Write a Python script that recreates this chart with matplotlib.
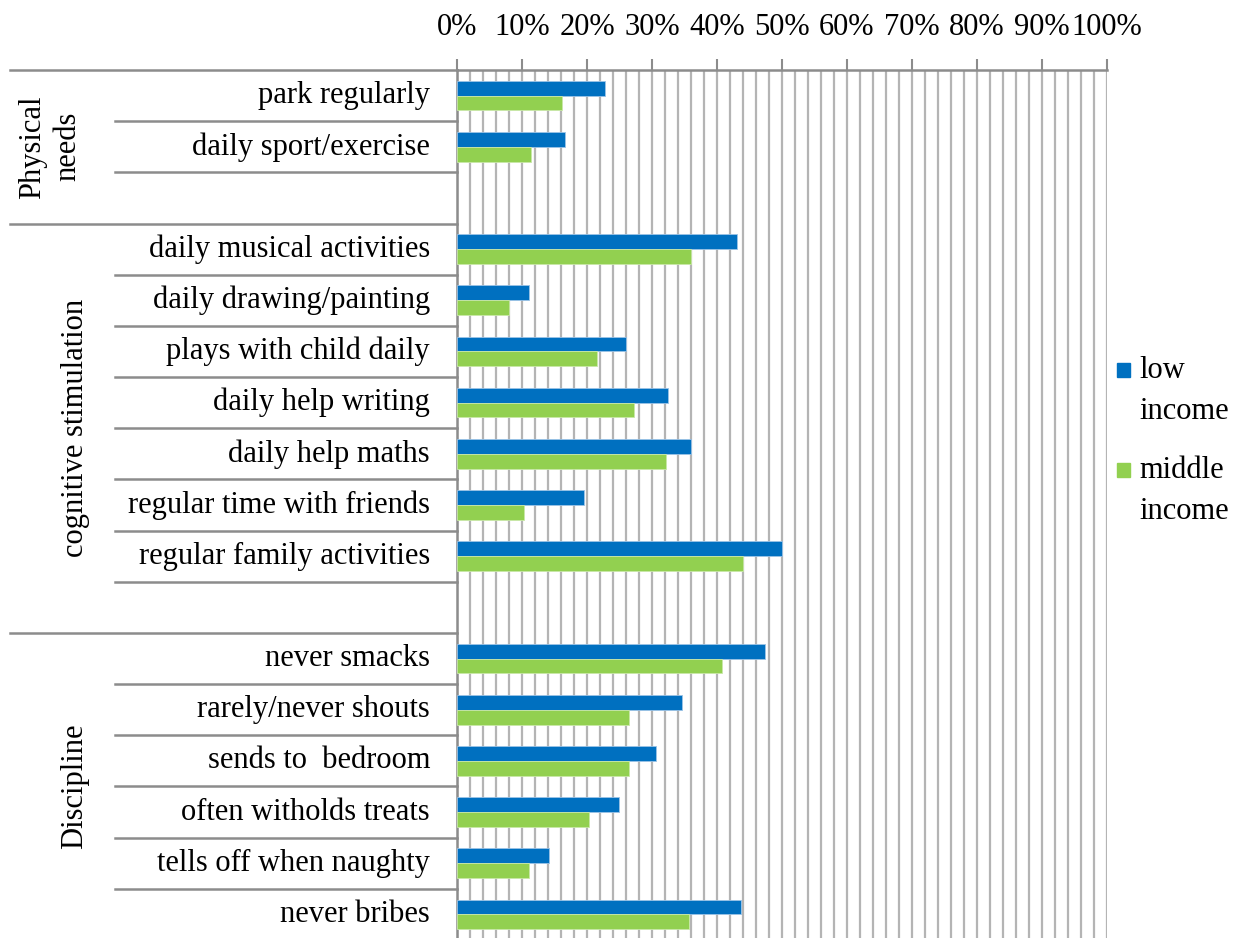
import numpy as np
import matplotlib
matplotlib.use("Agg")
import matplotlib.pyplot as plt
import matplotlib.transforms as mtransforms
from matplotlib.patches import Rectangle

# data (top to bottom, '' = empty spacer row)
categories = ["park regularly", "daily sport/exercise", "",
              "daily musical activities", "daily drawing/painting", "plays with child daily",
              "daily help writing", "daily help maths", "regular time with friends",
              "regular family activities", "",
              "never smacks", "rarely/never shouts", "sends to  bedroom",
              "often witholds treats", "tells off when naughty", "never bribes"]
low_income = [22.8, 16.6, np.nan,
              43.1, 11.1, 26.0, 32.5, 36.0, 19.5, 50.0, np.nan,
              47.4, 34.6, 30.6, 24.9, 14.2, 43.7]
middle_income = [16.2, 11.4, np.nan,
                 36.0, 8.0, 21.5, 27.2, 32.2, 10.3, 44.0, np.nan,
                 40.8, 26.5, 26.5, 20.3, 11.1, 35.7]
groups = ["Physical\nneeds", "cognitive stimulation", "Discipline"]
group_rows = [(0, 2), (3, 10), (11, 16)]
series_names = ["low\nincome", "middle\nincome"]
xtick_labels = ["%d%%" % v for v in range(0, 101, 10)]

BLUE = "#0070C0"
GREEN = "#92D050"
LINE = "#8c8c8c"
GRID = "#b4b4b4"
FONT = "Liberation Serif"
FS = 22

plt.rcParams['font.family'] = FONT

W, H = 1244, 938
fig = plt.figure(figsize=(W / 100, H / 100), dpi=100)
x0, x1, ytop, ybot = 457, 1107, 70, 940
ax = fig.add_axes([x0 / W, 1 - ybot / H, (x1 - x0) / W, (ybot - ytop) / H])

n = len(categories)
pos = np.arange(n)
bh = 0.29
ax.barh(pos - bh / 2, low_income, height=bh, color=BLUE, edgecolor="#9cc3e6", linewidth=0.6, zorder=3)
ax.barh(pos + bh / 2, middle_income, height=bh, color=GREEN, edgecolor="#c9e8a8", linewidth=0.6, zorder=3)

ax.set_xlim(0, 100)
ax.set_ylim(n - 0.5, -0.5)

ax.xaxis.tick_top()
ax.set_xticks(np.arange(0, 101, 10))
ax.set_xticklabels(xtick_labels, fontsize=FS)
ax.set_xticks(np.arange(0, 101, 2), minor=True)
ax.tick_params(axis='x', which='major', length=8, width=1.5, color=LINE, pad=12, direction='out')
ax.tick_params(axis='x', which='minor', length=0)
ax.grid(axis='x', which='both', color=GRID, linewidth=1.6, zorder=0)
ax.set_axisbelow(True)
ax.set_yticks([])

for s in ['right', 'bottom']:
    ax.spines[s].set_visible(False)
for s in ['top', 'left']:
    ax.spines[s].set_color(LINE)
    ax.spines[s].set_linewidth(1.8)

# category labels and separators in the left area
tr = mtransforms.blended_transform_factory(ax.transAxes, ax.transData)
for i, c in enumerate(categories):
    if c:
        ax.text(-27 / 650, i, c, transform=tr, ha='right', va='center', fontsize=FS)

inner_x = (115 - x0) / 650
outer_x = (10 - x0) / 650
group_bounds = set()
for a, b in group_rows:
    group_bounds.add(a - 0.5)
for i in range(n - 1):
    yb = i + 0.5
    if yb in group_bounds:
        continue
    ax.plot([inner_x, 0], [yb, yb], transform=tr, color=LINE, lw=1.8, clip_on=False)
for yb in sorted(group_bounds):
    ax.plot([outer_x, 0], [yb, yb], transform=tr, color=LINE, lw=1.8, clip_on=False)

group_x = [50, 75, 75]
for g, (a, b), gx in zip(groups, group_rows, group_x):
    ax.text((gx - x0) / 650, (a + b) / 2, g, transform=tr, rotation=90,
            ha='center', va='center', fontsize=FS, linespacing=1.3)

# legend
for name, col, ty in zip(series_names, [BLUE, GREEN], [370, 470]):
    fig.add_artist(Rectangle(((1117) / W, 1 - (ty + 7) / H), 13 / W, 14 / H,
                             transform=fig.transFigure, color=col))
    fig.text(1139 / W, 1 - (ty - 14) / H, name, fontsize=FS, ha='left', va='top', linespacing=1.55)

fig.savefig("out.png", dpi=100)
